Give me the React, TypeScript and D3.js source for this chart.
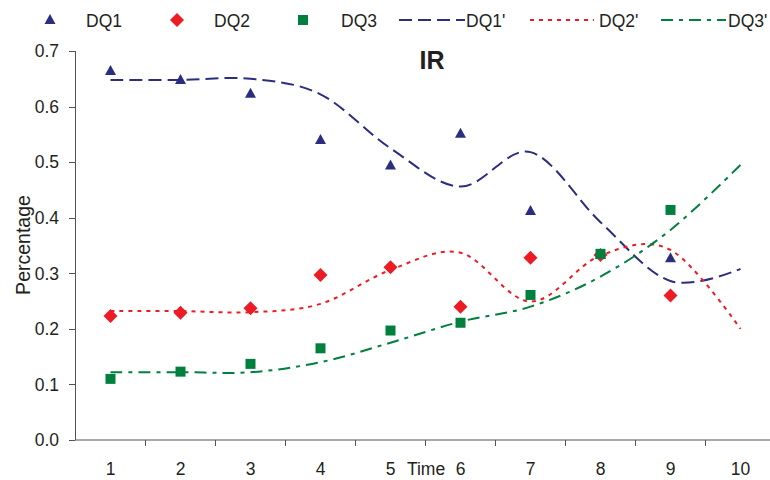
import React from "react";
import * as d3 from "d3";

const categories = ["1", "2", "3", "4", "5", "6", "7", "8", "9", "10"];
const yTicks = [0, 0.1, 0.2, 0.3, 0.4, 0.5, 0.6, 0.7];

// observed points (time 1..9)
const dq1 = [0.664, 0.648, 0.623, 0.54, 0.494, 0.551, 0.412, 0.333, 0.327];
const dq2 = [0.223, 0.229, 0.237, 0.297, 0.311, 0.24, 0.328, 0.333, 0.26];
const dq3 = [0.11, 0.123, 0.137, 0.165, 0.197, 0.211, 0.261, 0.335, 0.414];

// fitted (smoothed) lines, time 1..10
const dq1Fit = [0.648, 0.648, 0.65, 0.622, 0.525, 0.456, 0.518, 0.392, 0.286, 0.308];
const dq2Fit = [0.232, 0.232, 0.23, 0.245, 0.306, 0.337, 0.249, 0.332, 0.342, 0.2];
const dq3Fit = [0.122, 0.122, 0.122, 0.14, 0.175, 0.213, 0.24, 0.294, 0.378, 0.495];

const NAVY = "#2b2e7f";
const RED = "#ed1c24";
const GREEN = "#00803e";
const AXIS = "#555555";
const FONT = "'Liberation Sans', Arial, sans-serif";

const W = 770;
const H = 480;

function Triangle({ x, y, c }: { x: number; y: number; c: string }) {
  return <path d={`M${x},${y - 6}L${x + 5.5},${y + 4}L${x - 5.5},${y + 4}Z`} fill={c} />;
}
function Diamond({ x, y, c }: { x: number; y: number; c: string }) {
  return <path d={`M${x},${y - 7}L${x + 7},${y}L${x},${y + 7}L${x - 7},${y}Z`} fill={c} />;
}
function Square({ x, y, c }: { x: number; y: number; c: string }) {
  return <rect x={x - 5} y={y - 5} width={10} height={10} fill={c} />;
}

export default function App() {
  const xBand = d3.scaleBand<string>().domain(categories).range([75.5, 775.5]).padding(0);
  const xc = (i: number) => (xBand(categories[i]) as number) + xBand.bandwidth() / 2;
  const y = d3.scaleLinear().domain([0, 0.7]).range([440, 51]);

  const line = d3
    .line<number>()
    .x((_, i) => xc(i))
    .y((d) => y(d))
    .curve(d3.curveCardinal.tension(0));

  const bandEdges = categories.map((c) => xBand(c) as number).slice(1);

  const legendY = 20;

  return (
    <svg
      width={W}
      height={H}
      style={{ position: "absolute", left: 0, top: 0, display: "block", background: "#fff" }}
      fontFamily={FONT}
    >
      <rect x={0} y={0} width={W} height={H} fill="#fff" />
      {/* legend */}
      <g fontSize={17.5} fill="#231f20">
        <Triangle x={50} y={legendY} c={NAVY} />
        <text x={86} y={legendY + 6.5}>DQ1</text>
        <Diamond x={177} y={legendY} c={RED} />
        <text x={214} y={legendY + 6.5}>DQ2</text>
        <Square x={303} y={legendY} c={GREEN} />
        <text x={341} y={legendY + 6.5}>DQ3</text>
        <line x1={399} x2={465} y1={legendY} y2={legendY} stroke={NAVY} strokeWidth={2} strokeDasharray="13 6" />
        <text x={466} y={legendY + 6.5}>DQ1'</text>
        <line x1={530} x2={594} y1={legendY} y2={legendY} stroke={RED} strokeWidth={2} strokeDasharray="4 5" />
        <text x={599} y={legendY + 6.5}>DQ2'</text>
        <line x1={661} x2={726} y1={legendY} y2={legendY} stroke={GREEN} strokeWidth={2} strokeDasharray="12 6 4 6" />
        <text x={728} y={legendY + 6.5}>DQ3'</text>
      </g>

      {/* title */}
      <text x={432} y={69} textAnchor="middle" fontSize={25} fontWeight="bold" fill="#231f20">IR</text>

      {/* y axis */}
      <line x1={75.5} x2={75.5} y1={y(0.7)} y2={y(0)} stroke={AXIS} strokeWidth={1} />
      {yTicks.map((t) => (
        <g key={t}>
          <line x1={69} x2={75.5} y1={Math.round(y(t)) + 0.5} y2={Math.round(y(t)) + 0.5} stroke={AXIS} />
          <text x={59} y={y(t) + 6.3} textAnchor="end" fontSize={17.5} fill="#231f20">
            {t.toFixed(1)}
          </text>
        </g>
      ))}
      <text
        transform={`translate(29.5,245) rotate(-90)`}
        textAnchor="middle"
        fontSize={19.5}
        fill="#231f20"
      >
        Percentage
      </text>

      {/* x axis */}
      <line x1={75.5} x2={W} y1={440} y2={440} stroke={AXIS} strokeWidth={1} />
      {bandEdges.map((e, i) => (
        <line key={i} x1={e} x2={e} y1={440} y2={446} stroke={AXIS} />
      ))}
      {categories.map((c, i) => (
        <text key={c} x={xc(i)} y={475} textAnchor="middle" fontSize={17.5} fill="#231f20">
          {c}
        </text>
      ))}
      <text x={426} y={475} textAnchor="middle" fontSize={17.5} fill="#231f20">Time</text>

      {/* fitted lines */}
      <path d={line(dq1Fit) || ""} fill="none" stroke={NAVY} strokeWidth={2} strokeDasharray="13 6" />
      <path d={line(dq2Fit) || ""} fill="none" stroke={RED} strokeWidth={2} strokeDasharray="4 5" />
      <path d={line(dq3Fit) || ""} fill="none" stroke={GREEN} strokeWidth={2} strokeDasharray="12 6 4 6" />

      {/* points */}
      {dq1.map((v, i) => (
        <Triangle key={"a" + i} x={xc(i)} y={y(v)} c={NAVY} />
      ))}
      {dq2.map((v, i) => (
        <Diamond key={"b" + i} x={xc(i)} y={y(v)} c={RED} />
      ))}
      {dq3.map((v, i) => (
        <Square key={"c" + i} x={xc(i)} y={y(v)} c={GREEN} />
      ))}
    </svg>
  );
}
